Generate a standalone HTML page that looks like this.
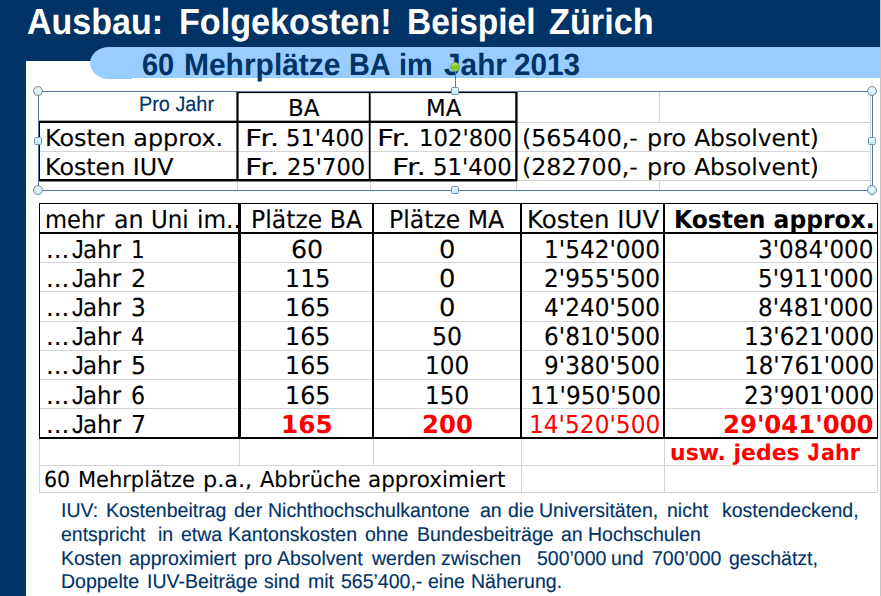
<!DOCTYPE html>
<html lang="de">
<head>
<meta charset="utf-8">
<title>Ausbau: Folgekosten! Beispiel Zürich</title>
<style>
html,body{margin:0;padding:0;}
body{width:881px;height:596px;overflow:hidden;background:#003366;position:relative;font-family:"Liberation Sans",sans-serif;}
#stage{position:absolute;left:0;top:0;width:881px;height:596px;overflow:hidden;background:#003366;}
.a{position:absolute;white-space:nowrap;}
.p{display:inline-block;width:0;position:relative;transform-origin:0 0;white-space:pre;}
.t{position:absolute;white-space:nowrap;line-height:40px;height:40px;transform-origin:0 0;}
#white{left:26px;top:61px;width:854px;height:535px;background:#fff;}
#edge{left:880px;top:0;width:1px;height:596px;background:#c3c3c3;}
#pill{left:111px;top:47px;width:769px;height:31px;background:#99ccff;}
#cap{left:90px;top:47px;width:42px;height:32px;background:#99ccff;border-radius:19px 0 0 19px / 16px 0 0 16px;}
.k{background:#000;}
.g{background:#d4d4d4;}
.sel{background:#4f7bad;}
.hsq{width:8px;height:8px;border:1px solid #6f93b8;border-radius:1.5px;background:linear-gradient(#eafafc,#bfe9f1);box-sizing:border-box;}
.hci{width:10px;height:10px;border:1px solid #7d8795;border-radius:50%;background:radial-gradient(circle at 50% 40%,#eefbfc 0%,#c4ebf0 75%);box-sizing:border-box;}
.hgr{width:10px;height:10px;border:1px solid #8a9a78;border-radius:50%;background:linear-gradient(#b4e860,#74c81c 55%,#8ed838);box-sizing:border-box;}

.title{text-rendering:geometricPrecision;font-family:"Liberation Sans",sans-serif;font-weight:bold;font-size:36.3px;color:#fff;}
.sub{text-rendering:geometricPrecision;font-family:"Liberation Sans",sans-serif;font-weight:bold;font-size:30.8px;color:#003366;}
.pj{text-rendering:geometricPrecision;font-family:"Liberation Sans",sans-serif;font-size:20.8px;color:#003366;-webkit-text-stroke:0.15px #003366;}
.v{text-rendering:geometricPrecision;font-family:"DejaVu Sans","Liberation Sans",sans-serif;font-size:23.3px;color:#000;-webkit-text-stroke:0.12px #000;}
.vb{text-rendering:geometricPrecision;font-family:"DejaVu Sans","Liberation Sans",sans-serif;font-weight:bold;font-size:23.3px;color:#000;}
.vr{text-rendering:geometricPrecision;font-family:"DejaVu Sans","Liberation Sans",sans-serif;font-size:23.3px;color:#f00;}
.vbr{text-rendering:geometricPrecision;font-family:"DejaVu Sans","Liberation Sans",sans-serif;font-weight:bold;font-size:23.3px;color:#f00;}
.w{text-rendering:geometricPrecision;font-family:"DejaVu Sans","Liberation Sans",sans-serif;font-size:24.7px;color:#000;-webkit-text-stroke:0.12px #000;}
.wb{text-rendering:geometricPrecision;font-family:"DejaVu Sans","Liberation Sans",sans-serif;font-weight:bold;font-size:24.7px;color:#000;}
.wr{text-rendering:geometricPrecision;font-family:"DejaVu Sans","Liberation Sans",sans-serif;font-size:24.7px;color:#f00;}
.wbr{text-rendering:geometricPrecision;font-family:"DejaVu Sans","Liberation Sans",sans-serif;font-weight:bold;font-size:24.7px;color:#f00;}
.wj{text-rendering:geometricPrecision;font-family:"Liberation Sans",sans-serif;font-size:26.2px;color:#000;-webkit-text-stroke:0.15px #000;}
.uj{text-rendering:geometricPrecision;font-family:"Liberation Sans",sans-serif;font-weight:bold;font-size:23.5px;color:#f00;-webkit-text-stroke:0.7px #f00;}
.usw{text-rendering:geometricPrecision;font-family:"DejaVu Sans","Liberation Sans",sans-serif;font-weight:bold;font-size:21.9px;color:#f00;}
.v21{text-rendering:geometricPrecision;font-family:"DejaVu Sans","Liberation Sans",sans-serif;font-size:22px;color:#000;-webkit-text-stroke:0.12px #000;}
.foot{text-rendering:geometricPrecision;font-family:"Liberation Sans",sans-serif;font-size:20px;color:#003366;-webkit-text-stroke:0.15px #003366;}
</style>
</head>
<body>
<div id="stage">
<div class="a" id="white"></div>
<div class="a" id="cap"></div>
<div class="a" id="pill"></div>
<div class="a" id="edge"></div>

<div class="a g" style="left:39px;top:122px;width:832px;height:1px;"></div>
<div class="a g" style="left:39px;top:151px;width:832px;height:1px;"></div>
<div class="a g" style="left:39px;top:180px;width:832px;height:1px;"></div>
<div class="a g" style="left:237px;top:92px;width:1px;height:30px;"></div>
<div class="a g" style="left:237px;top:181px;width:1px;height:9px;"></div>
<div class="a g" style="left:370px;top:92px;width:1px;height:30px;"></div>
<div class="a g" style="left:370px;top:181px;width:1px;height:9px;"></div>
<div class="a g" style="left:516px;top:92px;width:1px;height:30px;"></div>
<div class="a g" style="left:516px;top:181px;width:1px;height:9px;"></div>
<div class="a g" style="left:659px;top:92px;width:1px;height:30px;"></div>
<div class="a g" style="left:659px;top:181px;width:1px;height:9px;"></div>
<div class="a g" style="left:870px;top:92px;width:1px;height:98px;"></div>
<div class="a k" style="left:237px;top:92px;width:280px;height:1px;"></div>
<div class="a " style="left:237px;top:93px;width:280px;height:1px;background:rgba(0,0,0,0.12);"></div>
<div class="a " style="left:39px;top:120px;width:478px;height:1px;background:rgba(0,0,0,0.35);"></div>
<div class="a k" style="left:39px;top:121px;width:478px;height:2px;"></div>
<div class="a k" style="left:39px;top:179px;width:478px;height:2px;"></div>
<div class="a " style="left:39px;top:181px;width:478px;height:1px;background:rgba(0,0,0,0.45);"></div>
<div class="a k" style="left:38px;top:121px;width:2px;height:60px;"></div>
<div class="a " style="left:236px;top:92px;width:1px;height:89px;background:rgba(0,0,0,0.6);"></div>
<div class="a k" style="left:237px;top:92px;width:1px;height:89px;"></div>
<div class="a " style="left:238px;top:92px;width:1px;height:89px;background:rgba(0,0,0,0.6);"></div>
<div class="a " style="left:368px;top:92px;width:1px;height:89px;background:rgba(0,0,0,0.2);"></div>
<div class="a k" style="left:369px;top:92px;width:1px;height:89px;"></div>
<div class="a " style="left:370px;top:92px;width:1px;height:89px;background:rgba(0,0,0,0.6);"></div>
<div class="a " style="left:515px;top:92px;width:1px;height:89px;background:rgba(0,0,0,0.75);"></div>
<div class="a k" style="left:516px;top:92px;width:1px;height:89px;"></div>
<div class="a " style="left:517px;top:92px;width:1px;height:89px;background:rgba(0,0,0,0.55);"></div>
<div class="a g" style="left:40px;top:262px;width:837px;height:1px;"></div>
<div class="a g" style="left:40px;top:291px;width:837px;height:1px;"></div>
<div class="a g" style="left:40px;top:321px;width:837px;height:1px;"></div>
<div class="a g" style="left:40px;top:350px;width:837px;height:1px;"></div>
<div class="a g" style="left:40px;top:379px;width:837px;height:1px;"></div>
<div class="a g" style="left:40px;top:408px;width:837px;height:1px;"></div>
<div class="a g" style="left:39px;top:465px;width:839px;height:1px;"></div>
<div class="a g" style="left:39px;top:492px;width:839px;height:1px;"></div>
<div class="a g" style="left:39px;top:439px;width:1px;height:54px;"></div>
<div class="a g" style="left:521px;top:439px;width:1px;height:54px;"></div>
<div class="a g" style="left:664px;top:439px;width:1px;height:54px;"></div>
<div class="a g" style="left:877px;top:439px;width:1px;height:54px;"></div>
<div class="a g" style="left:239px;top:439px;width:1px;height:27px;"></div>
<div class="a g" style="left:373px;top:439px;width:1px;height:27px;"></div>
<div class="a k" style="left:39px;top:203px;width:839px;height:1px;"></div>
<div class="a k" style="left:39px;top:232px;width:839px;height:2px;"></div>
<div class="a k" style="left:39px;top:437px;width:839px;height:2px;"></div>
<div class="a k" style="left:39px;top:203px;width:1px;height:236px;"></div>
<div class="a k" style="left:877px;top:203px;width:1px;height:236px;"></div>
<div class="a k" style="left:238px;top:203px;width:3px;height:236px;"></div>
<div class="a k" style="left:372px;top:203px;width:2px;height:236px;"></div>
<div class="a k" style="left:520px;top:203px;width:2px;height:236px;"></div>
<div class="a k" style="left:663px;top:203px;width:2px;height:236px;"></div>
<div class="t" style="left:0;top:2px;"><span class="p title" style="left:27.19px;transform:scaleX(0.9371);">Ausbau: </span><span class="p title" style="left:178.83px;transform:scaleX(0.9410);">Folgekosten! </span><span class="p title" style="left:406.87px;transform:scaleX(0.9229);">Beispiel </span><span class="p title" style="left:549.39px;transform:scaleX(0.9442);">Zürich</span></div>
<div class="t" style="left:0;top:45px;"><span class="p sub" style="left:142.28px;transform:scaleX(0.9404);">60 </span><span class="p sub" style="left:184.39px;transform:scaleX(0.9729);">Mehrplätze </span><span class="p sub" style="left:349.45px;transform:scaleX(0.9384);">BA </span><span class="p sub" style="left:399.05px;transform:scaleX(0.9341);">im </span><span class="p sub" style="left:443.50px;transform:scaleX(0.9681);">Jahr </span><span class="p sub" style="left:514.47px;transform:scaleX(0.9646);">2013</span></div>
<div class="t pj" style="left:138.77px;top:85px;transform:scaleX(0.9542);">Pro Jahr</div>
<div class="t v" style="left:288.38px;top:89px;transform:scaleX(0.9842);">BA</div>
<div class="t v" style="left:425.99px;top:89px;transform:scaleX(0.9801);">MA</div>
<div class="t v" style="left:44.58px;top:119px;transform:scaleX(1.0248);">Kosten approx.</div>
<div class="t v" style="left:44.59px;top:148px;transform:scaleX(1.0197);">Kosten IUV</div>
<div class="t" style="left:0;top:119px;"><span class="p v" style="left:245.16px;transform:scaleX(1.2941);">Fr. </span><span class="p v" style="left:286.47px;transform:scaleX(0.9715);">51&#x27;400</span></div>
<div class="t" style="left:0;top:148px;"><span class="p v" style="left:245.16px;transform:scaleX(1.2941);">Fr. </span><span class="p v" style="left:286.55px;transform:scaleX(0.9706);">25&#x27;700</span></div>
<div class="t" style="left:0;top:119px;"><span class="p v" style="left:377.22px;transform:scaleX(1.2668);">Fr. </span><span class="p v" style="left:418.88px;transform:scaleX(0.9763);">102&#x27;800</span></div>
<div class="t" style="left:0;top:148px;"><span class="p v" style="left:391.58px;transform:scaleX(1.2850);">Fr. </span><span class="p v" style="left:433.26px;transform:scaleX(0.9780);">51&#x27;400</span></div>
<div class="t" style="left:0;top:119px;"><span class="p v" style="left:521.93px;transform:scaleX(1.0178);">(565400,- </span><span class="p v" style="left:646.99px;transform:scaleX(1.0239);">pro </span><span class="p v" style="left:694.18px;">Absolvent)</span></div>
<div class="t" style="left:0;top:148px;"><span class="p v" style="left:521.93px;transform:scaleX(1.0178);">(282700,- </span><span class="p v" style="left:646.99px;transform:scaleX(1.0239);">pro </span><span class="p v" style="left:694.18px;">Absolvent)</span></div>
<div class="t" style="left:0;top:200px;"><span class="p w" style="left:44.77px;transform:scaleX(0.9168);">mehr </span><span class="p w" style="left:113.78px;transform:scaleX(0.9643);">an </span><span class="p w" style="left:150.98px;transform:scaleX(0.9278);">Uni </span><span class="p w" style="left:197.04px;transform:scaleX(0.9418);">im..</span></div>
<div class="t w" style="left:251.14px;top:200px;transform:scaleX(0.9542);">Plätze BA</div>
<div class="t w" style="left:388.84px;top:200px;transform:scaleX(0.9534);">Plätze MA</div>
<div class="t w" style="left:527.36px;top:200px;transform:scaleX(0.9893);">Kosten IUV</div>
<div class="t wb" style="left:673.85px;top:200px;transform:scaleX(0.9482);">Kosten approx.</div>
<div class="t" style="left:0;top:229px;"><span class="p w" style="left:45.57px;transform:scaleX(0.9905);">...</span><span class="p wj" style="left:72.29px;transform:scaleX(0.8861);">J</span><span class="p w" style="left:83.43px;transform:scaleX(0.9312);">ahr </span><span class="p w" style="left:130.63px;transform:scaleX(0.8730);">1</span></div>
<div class="t w" style="left:290.92px;top:230px;transform:scaleX(1.0239);">60</div>
<div class="t w" style="left:439.47px;top:230px;transform:scaleX(1.0450);">0</div>
<div class="t" style="left:0;top:258px;"><span class="p w" style="left:45.57px;transform:scaleX(0.9905);">...</span><span class="p wj" style="left:72.29px;transform:scaleX(0.8861);">J</span><span class="p w" style="left:83.43px;transform:scaleX(0.9312);">ahr </span><span class="p w" style="left:130.76px;transform:scaleX(0.9709);">2</span></div>
<div class="t w" style="left:284.99px;top:259px;transform:scaleX(0.9631);">115</div>
<div class="t w" style="left:439.47px;top:259px;transform:scaleX(1.0450);">0</div>
<div class="t" style="left:0;top:287px;"><span class="p w" style="left:45.57px;transform:scaleX(0.9905);">...</span><span class="p wj" style="left:72.29px;transform:scaleX(0.8861);">J</span><span class="p w" style="left:83.43px;transform:scaleX(0.9312);">ahr </span><span class="p w" style="left:130.77px;transform:scaleX(0.9420);">3</span></div>
<div class="t w" style="left:284.99px;top:288px;transform:scaleX(0.9631);">165</div>
<div class="t w" style="left:439.47px;top:288px;transform:scaleX(1.0450);">0</div>
<div class="t" style="left:0;top:316px;"><span class="p w" style="left:45.57px;transform:scaleX(0.9905);">...</span><span class="p wj" style="left:72.29px;transform:scaleX(0.8861);">J</span><span class="p w" style="left:83.43px;transform:scaleX(0.9312);">ahr </span><span class="p w" style="left:131.37px;transform:scaleX(0.8550);">4</span></div>
<div class="t w" style="left:284.99px;top:317px;transform:scaleX(0.9631);">165</div>
<div class="t w" style="left:432.43px;top:317px;transform:scaleX(0.9570);">50</div>
<div class="t" style="left:0;top:345px;"><span class="p w" style="left:45.57px;transform:scaleX(0.9905);">...</span><span class="p wj" style="left:72.29px;transform:scaleX(0.8861);">J</span><span class="p w" style="left:83.43px;transform:scaleX(0.9312);">ahr </span><span class="p w" style="left:130.74px;transform:scaleX(0.9535);">5</span></div>
<div class="t w" style="left:284.99px;top:346px;transform:scaleX(0.9631);">165</div>
<div class="t w" style="left:425.26px;top:346px;transform:scaleX(0.9351);">100</div>
<div class="t" style="left:0;top:375px;"><span class="p w" style="left:45.57px;transform:scaleX(0.9905);">...</span><span class="p wj" style="left:72.29px;transform:scaleX(0.8861);">J</span><span class="p w" style="left:83.43px;transform:scaleX(0.9312);">ahr </span><span class="p w" style="left:130.94px;transform:scaleX(0.8963);">6</span></div>
<div class="t w" style="left:284.99px;top:376px;transform:scaleX(0.9631);">165</div>
<div class="t w" style="left:425.26px;top:376px;transform:scaleX(0.9351);">150</div>
<div class="t" style="left:0;top:404px;"><span class="p w" style="left:45.57px;transform:scaleX(0.9905);">...</span><span class="p wj" style="left:72.29px;transform:scaleX(0.8861);">J</span><span class="p w" style="left:83.43px;transform:scaleX(0.9312);">ahr </span><span class="p w" style="left:130.65px;transform:scaleX(0.9567);">7</span></div>
<div class="t wbr" style="left:281.38px;top:405px;transform:scaleX(1.0029);">165</div>
<div class="t wbr" style="left:422.10px;top:405px;transform:scaleX(0.9864);">200</div>
<div class="t" style="left:0;top:432px;"><span class="p usw" style="left:669.73px;transform:scaleX(1.0030);">usw. jedes </span><span class="p uj" style="left:807.73px;transform:scaleX(0.8537);">J</span><span class="p usw" style="left:820.52px;transform:scaleX(0.9435);">ahr</span></div>
<div class="t" style="left:0;top:461px;"><span class="p v21" style="left:43.82px;transform:scaleX(0.9363);">60 </span><span class="p v21" style="left:78.13px;transform:scaleX(0.9525);">Mehrplätze </span><span class="p v21" style="left:202.94px;transform:scaleX(1.0154);">p.a., </span><span class="p v21" style="left:260.11px;transform:scaleX(0.9546);">Abbrüche </span><span class="p v21" style="left:367.52px;transform:scaleX(0.9768);">approximiert</span></div>
<div class="t" style="left:0;top:491px;"><span class="p foot" style="left:60.56px;transform:scaleX(0.9750);">IUV: </span><span class="p foot" style="left:105.82px;transform:scaleX(0.9750);">Kostenbeitrag </span><span class="p foot" style="left:233.67px;transform:scaleX(0.9750);">der </span><span class="p foot" style="left:267.59px;transform:scaleX(0.9750);">Nichthochschulkantone </span><span class="p foot" style="left:479.76px;transform:scaleX(0.9750);">an </span><span class="p foot" style="left:508.36px;transform:scaleX(0.9750);">die </span><span class="p foot" style="left:539.24px;transform:scaleX(0.9750);">Universitäten, </span><span class="p foot" style="left:667.13px;transform:scaleX(0.9750);">nicht </span><span class="p foot" style="left:721.66px;transform:scaleX(0.9750);">kostendeckend,</span></div>
<div class="t" style="left:0;top:515px;"><span class="p foot" style="left:60.94px;transform:scaleX(0.9750);">entspricht </span><span class="p foot" style="left:158.43px;transform:scaleX(0.9750);">in </span><span class="p foot" style="left:180.94px;transform:scaleX(0.9750);">etwa </span><span class="p foot" style="left:228.27px;transform:scaleX(0.9750);">Kantonskosten </span><span class="p foot" style="left:365.13px;transform:scaleX(0.9750);">ohne </span><span class="p foot" style="left:416.81px;transform:scaleX(0.9750);">Bundesbeiträge </span><span class="p foot" style="left:560.71px;transform:scaleX(0.9750);">an </span><span class="p foot" style="left:588.11px;transform:scaleX(0.9750);">Hochschulen</span></div>
<div class="t" style="left:0;top:539px;"><span class="p foot" style="left:60.89px;transform:scaleX(0.9750);">Kosten </span><span class="p foot" style="left:129.22px;transform:scaleX(0.9750);">approximiert </span><span class="p foot" style="left:244.18px;transform:scaleX(0.9750);">pro </span><span class="p foot" style="left:277.34px;transform:scaleX(0.9750);">Absolvent </span><span class="p foot" style="left:372.02px;transform:scaleX(0.9750);">werden </span><span class="p foot" style="left:441.17px;transform:scaleX(0.9750);">zwischen </span><span class="p foot" style="left:536.50px;transform:scaleX(0.9750);">500’000 </span><span class="p foot" style="left:610.97px;transform:scaleX(0.9750);">und </span><span class="p foot" style="left:651.55px;transform:scaleX(0.9750);">700’000 </span><span class="p foot" style="left:728.89px;transform:scaleX(0.9750);">geschätzt,</span></div>
<div class="t" style="left:0;top:562px;"><span class="p foot" style="left:60.91px;transform:scaleX(0.9750);">Doppelte </span><span class="p foot" style="left:146.62px;transform:scaleX(0.9750);">IUV-Beiträge </span><span class="p foot" style="left:264.33px;transform:scaleX(0.9750);">sind </span><span class="p foot" style="left:307.70px;transform:scaleX(0.9750);">mit </span><span class="p foot" style="left:341.11px;transform:scaleX(0.9750);">565’400,- </span><span class="p foot" style="left:428.48px;transform:scaleX(0.9750);">eine </span><span class="p foot" style="left:470.71px;transform:scaleX(0.9750);">Näherung.</span></div>
<div class="t w" style="left:544.25px;top:230px;transform:scaleX(0.9402);">1&#x27;542&#x27;000</div>
<div class="t w" style="left:758.29px;top:230px;transform:scaleX(0.9349);">3&#x27;084&#x27;000</div>
<div class="t w" style="left:544.25px;top:259px;transform:scaleX(0.9402);">2&#x27;955&#x27;500</div>
<div class="t w" style="left:758.29px;top:259px;transform:scaleX(0.9349);">5&#x27;911&#x27;000</div>
<div class="t w" style="left:544.25px;top:288px;transform:scaleX(0.9402);">4&#x27;240&#x27;500</div>
<div class="t w" style="left:758.29px;top:288px;transform:scaleX(0.9349);">8&#x27;481&#x27;000</div>
<div class="t w" style="left:544.25px;top:317px;transform:scaleX(0.9402);">6&#x27;810&#x27;500</div>
<div class="t w" style="left:743.76px;top:317px;transform:scaleX(0.9349);">13&#x27;621&#x27;000</div>
<div class="t w" style="left:544.25px;top:346px;transform:scaleX(0.9402);">9&#x27;380&#x27;500</div>
<div class="t w" style="left:743.76px;top:346px;transform:scaleX(0.9349);">18&#x27;761&#x27;000</div>
<div class="t w" style="left:529.64px;top:376px;transform:scaleX(0.9402);">11&#x27;950&#x27;500</div>
<div class="t w" style="left:743.76px;top:376px;transform:scaleX(0.9349);">23&#x27;901&#x27;000</div>
<div class="t wr" style="left:529.29px;top:405px;transform:scaleX(0.9430);">14&#x27;520&#x27;500</div>
<div class="t wbr" style="left:723.10px;top:405px;transform:scaleX(0.9869);">29&#x27;041&#x27;000</div>
<div class="a sel" style="left:38px;top:91px;width:835px;height:1px;"></div>
<div class="a sel" style="left:38px;top:190px;width:835px;height:1px;"></div>
<div class="a sel" style="left:38px;top:91px;width:1px;height:100px;"></div>
<div class="a sel" style="left:872px;top:91px;width:1px;height:100px;"></div>
<div class="a sel" style="left:455px;top:68px;width:1px;height:23px;"></div>
<div class="a hci" style="left:33px;top:86px;"></div>
<div class="a hci" style="left:867px;top:86px;"></div>
<div class="a hci" style="left:33px;top:185px;"></div>
<div class="a hci" style="left:867px;top:185px;"></div>
<div class="a hsq" style="left:451px;top:87px;"></div>
<div class="a hsq" style="left:451px;top:186px;"></div>
<div class="a hsq" style="left:34px;top:137px;"></div>
<div class="a hsq" style="left:868px;top:137px;"></div>
<div class="a hgr" style="left:450px;top:62px;"></div>
</div>
</body>
</html>
